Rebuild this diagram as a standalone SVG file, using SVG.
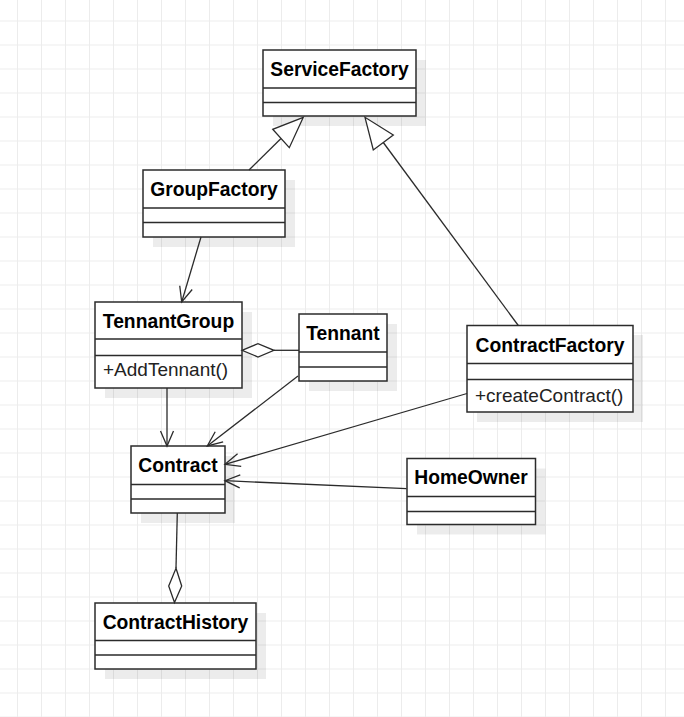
<svg xmlns="http://www.w3.org/2000/svg" width="684" height="717" viewBox="0 0 684 717">
  <defs>
    <pattern id="grid" x="17" y="20.5" width="24" height="24" patternUnits="userSpaceOnUse">
      <path d="M0.5 0 V24 M0 0.5 H24" stroke="#ececec" stroke-width="1" fill="none"/>
    </pattern>
    <marker id="open" viewBox="0 0 20 20" refX="16" refY="10" markerWidth="20" markerHeight="20" markerUnits="userSpaceOnUse" orient="auto">
      <path d="M1 3.5 L16 10 L1 16.5" fill="none" stroke="#2b2b2b" stroke-width="1.3"/>
    </marker>
  </defs>
  <style>
    .shadow { fill: #000; fill-opacity: 0.075; }
    .box { fill: #fff; stroke: #2b2b2b; stroke-width: 1.5; }
    .div { stroke: #2b2b2b; stroke-width: 1.5; fill: none; }
    .title { font-family: "Liberation Sans", Arial, sans-serif; font-weight: bold; font-size: 19.3px; fill: #000; text-anchor: middle; }
    .member { font-family: "Liberation Sans", Arial, sans-serif; font-size: 19px; fill: #222; }
    .edge { stroke: #2b2b2b; stroke-width: 1.3; fill: none; }
    .head { stroke: #2b2b2b; stroke-width: 1.3; fill: #fff; }
  </style>
  <rect width="684" height="717" fill="#fff"/>
  <rect width="684" height="717" fill="url(#grid)"/>

  <g id="ServiceFactory">
    <rect class="shadow" x="273" y="60" width="153" height="66"/>
    <rect class="box" x="263" y="50" width="153" height="66"/>
    <path class="div" d="M263 88 H416 M263 102.5 H416"/>
    <text class="title" x="339.5" y="76">ServiceFactory</text>
  </g>

  <g id="GroupFactory">
    <rect class="shadow" x="153" y="180" width="142" height="67"/>
    <rect class="box" x="143" y="170" width="142" height="67"/>
    <path class="div" d="M143 208 H285 M143 222.5 H285"/>
    <text class="title" x="214" y="196">GroupFactory</text>
  </g>

  <g id="TennantGroup">
    <rect class="shadow" x="105" y="312" width="147" height="86"/>
    <rect class="box" x="95" y="302" width="147" height="86"/>
    <path class="div" d="M95 339 H242 M95 355.5 H242"/>
    <text class="title" x="168.5" y="328">TennantGroup</text>
    <text class="member" x="103" y="376">+AddTennant()</text>
  </g>

  <g id="Tennant">
    <rect class="shadow" x="309" y="324" width="88" height="67"/>
    <rect class="box" x="299" y="314" width="88" height="67"/>
    <path class="div" d="M299 352 H387 M299 367 H387"/>
    <text class="title" x="343" y="340">Tennant</text>
  </g>

  <g id="ContractFactory">
    <rect class="shadow" x="477" y="335" width="166" height="87"/>
    <rect class="box" x="467" y="325.5" width="166" height="86.5"/>
    <path class="div" d="M467 363.5 H633 M467 379.5 H633"/>
    <text class="title" x="550" y="352">ContractFactory</text>
    <text class="member" x="475" y="402">+createContract()</text>
  </g>

  <g id="Contract">
    <rect class="shadow" x="141" y="456" width="94" height="67"/>
    <rect class="box" x="131" y="446" width="94" height="67"/>
    <path class="div" d="M131 484.5 H225 M131 499 H225"/>
    <text class="title" x="178" y="472">Contract</text>
  </g>

  <g id="HomeOwner">
    <rect class="shadow" x="417" y="468.5" width="128.5" height="66"/>
    <rect class="box" x="407" y="458.5" width="128.5" height="66"/>
    <path class="div" d="M407 496.5 H535.5 M407 511.5 H535.5"/>
    <text class="title" x="471" y="484">HomeOwner</text>
  </g>

  <g id="ContractHistory">
    <rect class="shadow" x="105" y="613" width="161" height="66"/>
    <rect class="box" x="95" y="603" width="161" height="66"/>
    <path class="div" d="M95 640.5 H256 M95 655 H256"/>
    <text class="title" x="175.5" y="629">ContractHistory</text>
  </g>

  <g id="connectors">
    <path class="edge" d="M249 170 L281 138.5"/>
    <path class="head" d="M303.3 117.3 L272.7 129.3 L289.3 147.7 Z"/>
    <path class="edge" d="M518.3 325.5 L383.3 142.5"/>
    <path class="head" d="M365 117.3 L373.3 150 L393.3 135 Z"/>
    <path class="edge" d="M201 237 L181.7 302" marker-end="url(#open)"/>
    <path class="edge" d="M167 388 L167 446" marker-end="url(#open)"/>
    <path class="edge" d="M298 376 L207.3 446" marker-end="url(#open)"/>
    <path class="edge" d="M467 393.5 L225 464.3" marker-end="url(#open)"/>
    <path class="edge" d="M406.5 488.7 L225 480.7" marker-end="url(#open)"/>
    <path class="edge" d="M299 350.3 L274 350.3"/>
    <path class="head" d="M242 350.3 L258 343.6 L274 350.3 L258 357 Z"/>
    <path class="edge" d="M177.3 513 L176 568.3"/>
    <path class="head" d="M176 568.3 L181.7 586 L174.5 602.5 L168.7 586 Z"/>
  </g>
</svg>
